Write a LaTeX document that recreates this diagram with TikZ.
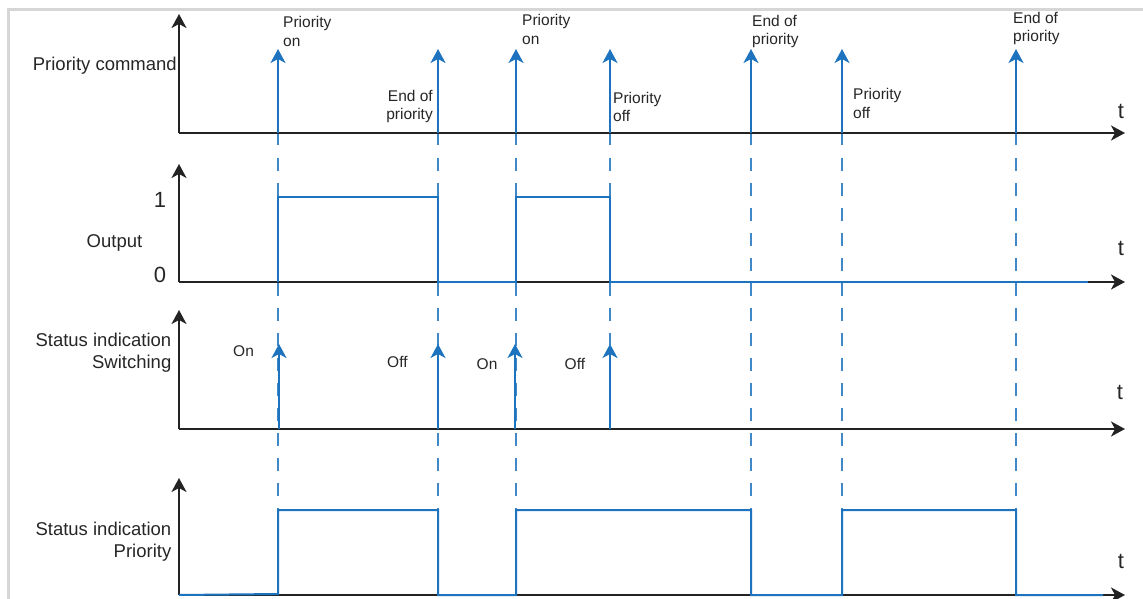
\documentclass[tikz,border=0pt]{standalone}
\usepackage{fontspec}
\setmainfont{Liberation Sans}
\usepackage{xcolor}
\usepackage{tikz}
\usetikzlibrary{arrows.meta}
\definecolor{sigblue}{RGB}{30,115,190}
\definecolor{axisdark}{RGB}{35,35,35}
\definecolor{framegray}{RGB}{214,214,214}

\begin{document}
\begin{tikzpicture}[x=1pt, y=-1pt,
  font=\fontsize{15.5}{18.6}\selectfont,
  axis/.style={line width=2pt, axisdark, -{Stealth[length=14pt, width=15pt, inset=4pt]}},
  pulse/.style={line width=2pt, sigblue, -{Stealth[length=14pt, width=15pt, inset=4pt]}},
  sig/.style={line width=2pt, sigblue},
  guide/.style={line width=1.3pt, sigblue!85, dash pattern=on 12.5pt off 12.5pt},
  lbl/.style={inner sep=0pt, align=left, text=black!85},
  lblr/.style={inner sep=0pt, align=right, text=black!85},
  big/.style={inner sep=0pt, align=right, font=\fontsize{18.5}{22}\selectfont, text=black!85},
  tlab/.style={inner sep=0pt, font=\fontsize{22}{26}\selectfont, text=black!85}]

  \useasboundingbox (0,0) rectangle (1143,599);
  \draw[framegray, line width=3pt] (8,599) -- (8,10) -- (1143,10);

  % dashed guides
  \draw[guide] (278,133) -- (278,510);
  \draw[guide] (438,133) -- (438,510);
  \draw[guide] (516,133) -- (516,510);
  \draw[guide] (610,133) -- (610,345);
  \draw[guide] (751,133) -- (751,510);
  \draw[guide] (842,133) -- (842,510);
  \draw[guide] (1016,133) -- (1016,510);

  % priority command
  \draw[axis] (179,133) -- (179,14);
  \draw[axis] (179,133) -- (1125,133);
  \draw[pulse] (278,133) -- (278,49);
  \draw[pulse] (438,133) -- (438,49);
  \draw[pulse] (516,133) -- (516,49);
  \draw[pulse] (610,133) -- (610,49);
  \draw[pulse] (751,133) -- (751,49);
  \draw[pulse] (842,133) -- (842,49);
  \draw[pulse] (1016,133) -- (1016,49);
  \node[big, anchor=base east] (cmd) at (177,70.5) {Priority command};
  \node[tlab, anchor=base] (t1) at (1121,119) {t};
  \node[lbl, anchor=base west] (pon1) at (283,46.5) {Priority\\on};
  \node[lblr, anchor=base east] (end1) at (433,120) {End of\\priority};
  \node[lbl, anchor=base west] (pon2) at (522,44.5) {Priority\\on};
  \node[lbl, anchor=base west] (poff1) at (613,122) {Priority\\off};
  \node[lbl, anchor=base west] (end2) at (752,45) {End of\\priority};
  \node[lbl, anchor=base west] (poff2) at (853,118.5) {Priority\\off};
  \node[lbl, anchor=base west] (end3) at (1013,42) {End of\\priority};

  % output
  \draw[axis] (179,282) -- (179,164);
  \draw[axis] (179,282) -- (1125,282);
  \draw[sig] (278,282) -- (278,197) -- (438,197) -- (438,282) -- (516,282)
        -- (516,197) -- (610,197) -- (610,282) -- (1088,282);
  \node[big, anchor=base] (out) at (114.5,247) {Output};
  \node[tlab, anchor=base] (one) at (160,207) {1};
  \node[tlab, anchor=base] (zero) at (160,282.5) {0};
  \node[tlab, anchor=base] (t2) at (1121,255) {t};

  % status indication switching
  \draw[axis] (179,429) -- (179,310);
  \draw[axis] (179,429) -- (1125,429);
  \draw[pulse] (279,429) -- (279,344);
  \draw[pulse] (438,429) -- (438,344);
  \draw[pulse] (515,429) -- (515,344);
  \draw[pulse] (610,429) -- (610,344);
  \node[big, anchor=base east] (swi) at (171.5,368.5) {Status indication\\Switching};
  \node[lbl, anchor=base west] (on1) at (233,356) {On};
  \node[lbl, anchor=base west] (off1) at (387,367.5) {Off};
  \node[lbl, anchor=base west] (on2) at (476.5,369) {On};
  \node[lbl, anchor=base west] (off2) at (564.5,369) {Off};
  \node[tlab, anchor=base] (t3) at (1120,399) {t};

  % status indication priority
  \draw[axis] (179,595) -- (179,478);
  \draw[axis] (179,595) -- (1125,595);
  \draw[sig] (179,595) -- (278,594) -- (278,510) -- (438,510) -- (438,595)
        -- (516,595) -- (516,510) -- (751,510) -- (751,595) -- (842,595)
        -- (842,510) -- (1016,510) -- (1016,595) -- (1103,595);
  \node[big, anchor=base east] (pri) at (171.5,557) {Status indication\\Priority};
  \node[tlab, anchor=base] (t4) at (1121,568) {t};
\end{tikzpicture}
\end{document}
